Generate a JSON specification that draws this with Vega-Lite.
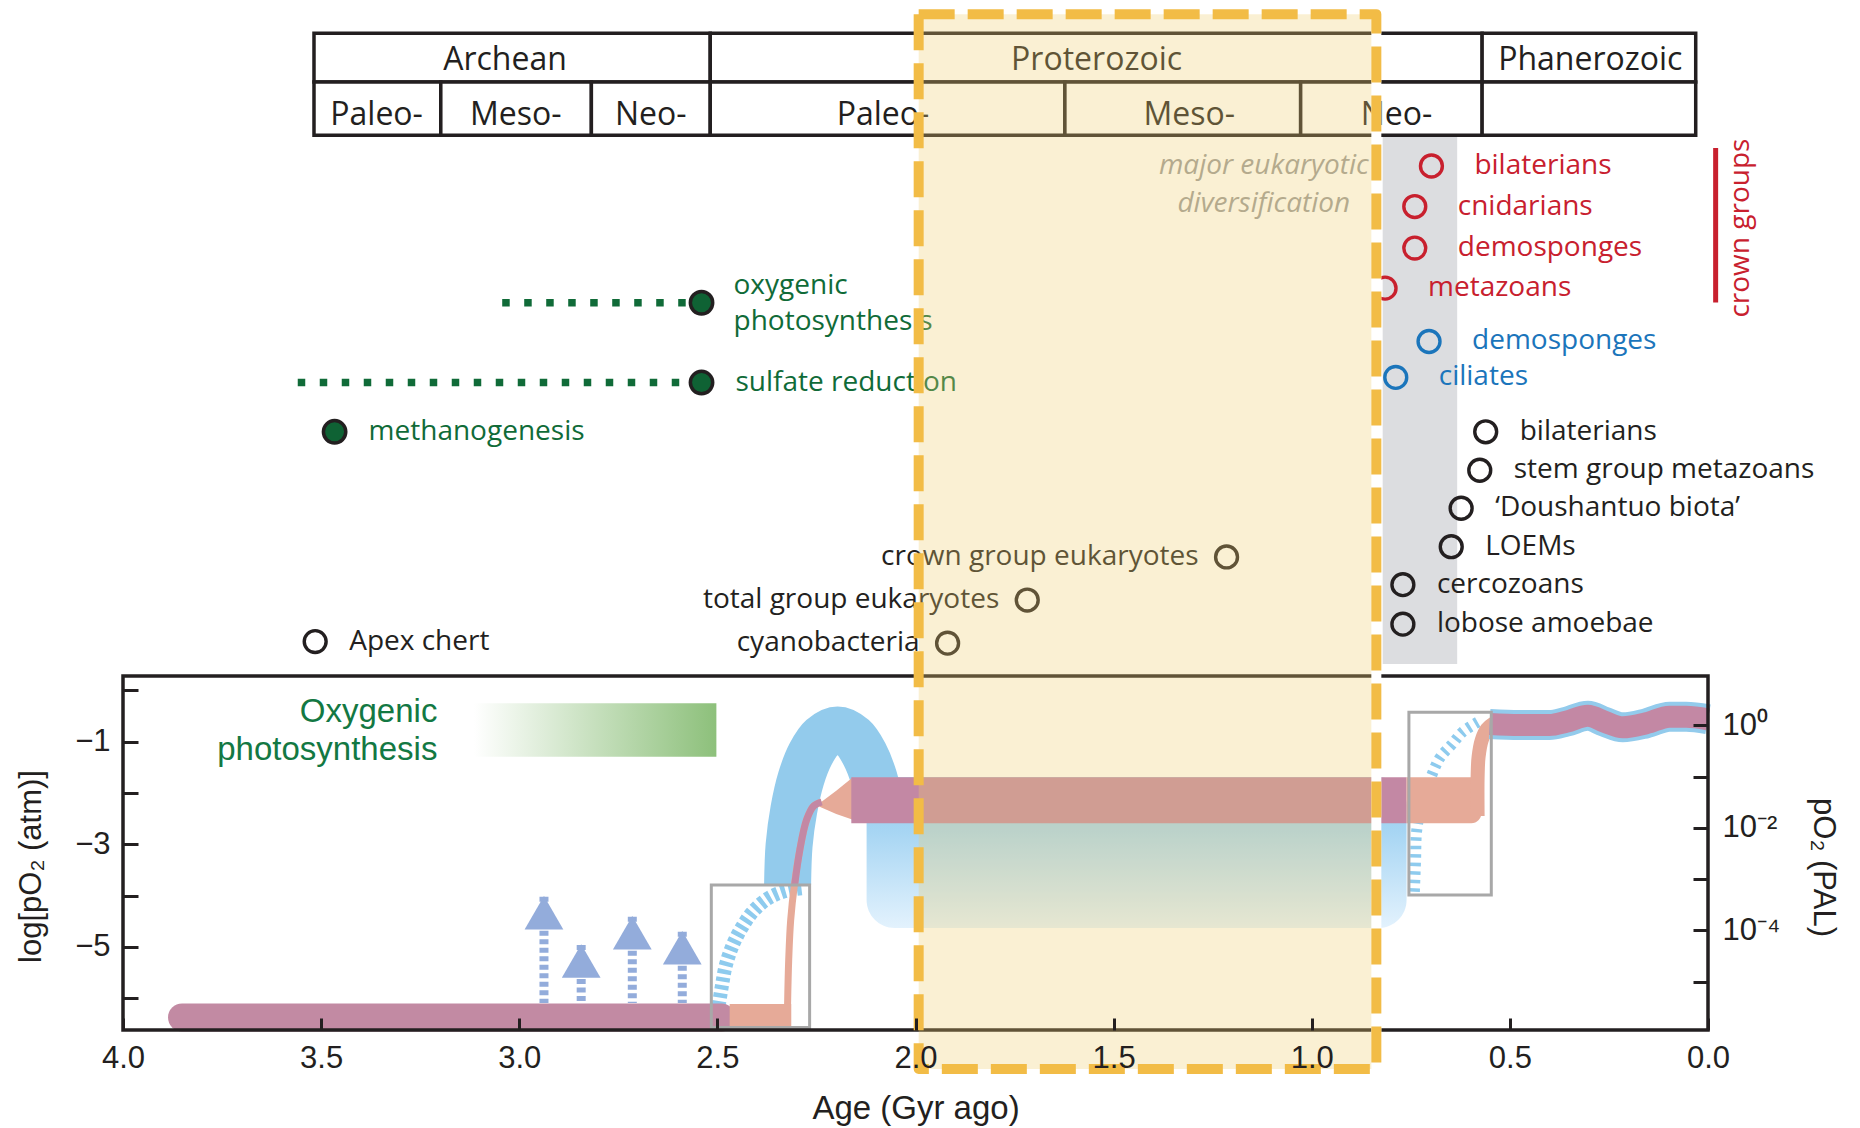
{
  "$schema": "https://vega.github.io/schema/vega-lite/v6.json",
  "width": 1585,
  "height": 1022,
  "autosize": {"type": "none"},
  "padding": {"left": 123, "top": 8, "right": 152, "bottom": 98},
  "background": "white",
  "config": {"view": {"stroke": null}, "font": "Open Sans"},
  "datasets": {
    "cells": [
      {"a": 3.518, "a2": 2.518, "v": 12.807, "v2": 11.86, "am": 3.036, "vb": 12.09, "label": "Archean"},
      {"a": 2.518, "a2": 0.570, "v": 12.807, "v2": 11.86, "am": 1.543, "vb": 12.09, "label": "Proterozoic"},
      {"a": 0.570, "a2": 0.031, "v": 12.807, "v2": 11.86, "am": 0.297, "vb": 12.09, "label": "Phanerozoic"},
      {"a": 3.518, "a2": 3.198, "v": 11.86, "v2": 10.819, "am": 3.360, "vb": 11.02, "label": "Paleo-"},
      {"a": 3.198, "a2": 2.818, "v": 11.86, "v2": 10.819, "am": 3.009, "vb": 11.02, "label": "Meso-"},
      {"a": 2.818, "a2": 2.518, "v": 11.86, "v2": 10.819, "am": 2.668, "vb": 11.02, "label": "Neo-"},
      {"a": 2.518, "a2": 1.623, "v": 11.86, "v2": 10.819, "am": 2.082, "vb": 11.02, "label": "Paleo-"},
      {"a": 1.623, "a2": 1.028, "v": 11.86, "v2": 10.819, "am": 1.309, "vb": 11.02, "label": "Meso-"},
      {"a": 1.028, "a2": 0.570, "v": 11.86, "v2": 10.819, "am": 0.786, "vb": 11.02, "label": "Neo-"},
      {"a": 0.570, "a2": 0.031, "v": 11.86, "v2": 10.819, "am": 0.300, "vb": 11.02, "label": ""}
    ],
    "events": [
      {"label": "bilaterians", "age": 0.698, "v": 10.22, "kind": "crown"},
      {"label": "cnidarians", "age": 0.740, "v": 9.43, "kind": "crown"},
      {"label": "demosponges", "age": 0.740, "v": 8.62, "kind": "crown"},
      {"label": "metazoans", "age": 0.815, "v": 7.84, "kind": "crown"},
      {"label": "demosponges", "age": 0.704, "v": 6.80, "kind": "total"},
      {"label": "ciliates", "age": 0.788, "v": 6.10, "kind": "total"},
      {"label": "bilaterians", "age": 0.561, "v": 5.04, "kind": "stem"},
      {"label": "stem group metazoans", "age": 0.576, "v": 4.29, "kind": "stem"},
      {"label": "‘Doushantuo biota’", "age": 0.623, "v": 3.55, "kind": "stem"},
      {"label": "LOEMs", "age": 0.648, "v": 2.80, "kind": "stem"},
      {"label": "cercozoans", "age": 0.770, "v": 2.06, "kind": "stem"},
      {"label": "lobose amoebae", "age": 0.770, "v": 1.29, "kind": "stem"},
      {"label": "Apex chert", "age": 3.515, "v": 0.95, "kind": "stem"},
      {"label": "crown group eukaryotes", "age": 1.215, "v": 2.60, "kind": "early"},
      {"label": "total group eukaryotes", "age": 1.718, "v": 1.76, "kind": "early"},
      {"label": "cyanobacteria", "age": 1.919, "v": 0.92, "kind": "early"},
      {"label": "oxygenic\nphotosynthesis", "age": 2.540, "v": 7.555, "kind": "metabolism"},
      {"label": "sulfate reduction", "age": 2.540, "v": 6.0, "kind": "metabolism"},
      {"label": "methanogenesis", "age": 3.466, "v": 5.04, "kind": "metabolism"}
    ],
    "arch": [
      {"i": 0, "age": 2.3228, "v": -3.794},
      {"i": 1, "age": 2.319, "v": -3.018},
      {"i": 2, "age": 2.307, "v": -2.327},
      {"i": 3, "age": 2.289, "v": -1.722},
      {"i": 4, "age": 2.265, "v": -1.247},
      {"i": 5, "age": 2.2365, "v": -0.925},
      {"i": 6, "age": 2.1966, "v": -0.773},
      {"i": 7, "age": 2.1567, "v": -0.925},
      {"i": 8, "age": 2.1285, "v": -1.247},
      {"i": 9, "age": 2.1042, "v": -1.722},
      {"i": 10, "age": 2.0858, "v": -2.327},
      {"i": 11, "age": 2.0829, "v": -2.55}
    ],
    "thin": [
      {"i": 0, "age": 2.3228, "v": -6.113},
      {"i": 1, "age": 2.320, "v": -5.256},
      {"i": 2, "age": 2.315, "v": -4.476},
      {"i": 3, "age": 2.305, "v": -3.755},
      {"i": 4, "age": 2.292, "v": -3.112},
      {"i": 5, "age": 2.275, "v": -2.527},
      {"i": 6, "age": 2.257, "v": -2.254},
      {"i": 7, "age": 2.237, "v": -2.176}
    ],
    "thinUpper": [
      {"i": 3, "age": 2.305, "v": -3.794},
      {"i": 4, "age": 2.292, "v": -3.112},
      {"i": 5, "age": 2.275, "v": -2.527},
      {"i": 6, "age": 2.257, "v": -2.254},
      {"i": 7, "age": 2.237, "v": -2.176}
    ],
    "arcLeft": [
      {"i": 0, "age": 2.503, "v": -6.45},
      {"i": 1, "age": 2.489, "v": -5.78},
      {"i": 2, "age": 2.479, "v": -5.37},
      {"i": 3, "age": 2.462, "v": -4.98},
      {"i": 4, "age": 2.439, "v": -4.63},
      {"i": 5, "age": 2.409, "v": -4.30},
      {"i": 6, "age": 2.371, "v": -4.05},
      {"i": 7, "age": 2.328, "v": -3.91},
      {"i": 8, "age": 2.280, "v": -3.85}
    ],
    "arcRight": [
      {"i": 0, "age": 0.741, "v": -3.925},
      {"i": 1, "age": 0.738, "v": -3.307},
      {"i": 2, "age": 0.735, "v": -2.72},
      {"i": 3, "age": 0.720, "v": -2.14},
      {"i": 4, "age": 0.702, "v": -1.75},
      {"i": 5, "age": 0.677, "v": -1.32},
      {"i": 6, "age": 0.647, "v": -1.06},
      {"i": 7, "age": 0.619, "v": -0.81},
      {"i": 8, "age": 0.581, "v": -0.62}
    ],
    "strip": [
      {"i": 0, "age": 0.5814, "v": -2.45},
      {"i": 1, "age": 0.5814, "v": -1.689},
      {"i": 2, "age": 0.579, "v": -1.299},
      {"i": 3, "age": 0.571, "v": -0.968},
      {"i": 4, "age": 0.558, "v": -0.754},
      {"i": 5, "age": 0.541, "v": -0.645}
    ],
    "modern": [
      {"age": 0.551, "v": -0.656},
      {"age": 0.476, "v": -0.676},
      {"age": 0.400, "v": -0.676},
      {"age": 0.358, "v": -0.612},
      {"age": 0.303, "v": -0.495},
      {"age": 0.261, "v": -0.612},
      {"age": 0.215, "v": -0.720},
      {"age": 0.156, "v": -0.642},
      {"age": 0.097, "v": -0.514},
      {"age": 0.055, "v": -0.514},
      {"age": 0.0, "v": -0.565}
    ],
    "arrows": [
      {"age": 2.9376, "tip": -4.022},
      {"age": 2.8437, "tip": -4.963},
      {"age": 2.7147, "tip": -4.412},
      {"age": 2.5886, "tip": -4.704}
    ]
  },
  "layer": [
    {
      "layer": [
        {
          "data": {"values": [{"a": 4, "a2": 0, "v": 0.279, "v2": -6.62}]},
          "mark": {"type": "rect", "filled": false, "color": "#231f20", "strokeWidth": 3.5, "opacity": 0},
          "encoding": {
            "x": {
              "field": "a", "type": "quantitative",
              "scale": {"domain": [0, 4], "reverse": true, "nice": false, "zero": false},
              "axis": {
                "values": [4, 3.5, 3, 2.5, 2, 1.5, 1, 0.5, 0], "format": ".1f",
                "domain": false, "grid": false, "ticks": true, "labels": true, "tickSize": -12, "tickWidth": 3, "tickColor": "#231f20",
                "labelFont": "Liberation Sans", "labelFontSize": 31, "labelColor": "#231f20", "labelPadding": 25,
                "labelFlush": false, "labelOverlap": false, "labelBound": false,
                "title": "Age (Gyr ago)", "titleFont": "Liberation Sans", "titleFontSize": 33, "titleFontWeight": "normal",
                "titleColor": "#231f20", "titleY": 78, "titleBaseline": "middle", "zindex": 1
              }
            },
            "x2": {"field": "a2"},
            "y": {
              "field": "v", "type": "quantitative",
              "scale": {"domain": [-6.62, 13.3], "nice": false, "zero": false},
              "axis": {
                "values": [0, -1, -2, -3, -4, -5, -6],
                "labelExpr": "datum.value % 2 != 0 ? '−' + abs(datum.value) : ''",
                "domain": false, "grid": false, "ticks": true, "labels": true, "tickSize": -15, "tickWidth": 3, "tickColor": "#231f20",
                "labelFont": "Liberation Sans", "labelFontSize": 31, "labelColor": "#231f20", "labelPadding": 28,
                "labelFlush": false, "labelOverlap": false,
                "title": "log[pO₂ (atm)]", "titleFont": "Liberation Sans", "titleFontSize": 31, "titleFontWeight": "normal",
                "titleColor": "#231f20", "titleAngle": 270, "titleX": -92, "titleY": 858, "titleAlign": "center", "titleBaseline": "middle",
                "zindex": 1
              }
            },
            "y2": {"field": "v2"}
          }
        },
        {
          "data": {"values": [{"a": 0.821, "a2": 0.633, "v": 10.819, "v2": 0.513}]},
          "mark": {"type": "rect", "color": "#dcdde0"},
          "encoding": {
            "x": {"field": "a", "type": "quantitative"},
            "x2": {"field": "a2"},
            "y": {"field": "v", "type": "quantitative"},
            "y2": {"field": "v2"}
          }
        },
        {
          "data": {"name": "cells"},
          "mark": {"type": "rect", "fill": "white", "stroke": "#231f20", "strokeWidth": 3.5},
          "encoding": {
            "x": {"field": "a", "type": "quantitative"},
            "x2": {"field": "a2"},
            "y": {"field": "v", "type": "quantitative"},
            "y2": {"field": "v2"}
          }
        },
        {
          "data": {"name": "cells"},
          "mark": {"type": "text", "font": "Open Sans", "fontSize": 32, "color": "#231f20", "align": "center", "baseline": "alphabetic"},
          "encoding": {
            "x": {"field": "am", "type": "quantitative"},
            "y": {"field": "vb", "type": "quantitative"},
            "text": {"field": "label"}
          }
        },
        {
          "data": {"values": [{"a": 3.043, "a2": 2.575, "v": 7.555}, {"a": 3.559, "a2": 2.575, "v": 6.0}]},
          "mark": {"type": "rule", "color": "#106b38", "strokeWidth": 7.5, "strokeDash": [7.5, 14.5]},
          "encoding": {
            "x": {"field": "a", "type": "quantitative"},
            "x2": {"field": "a2"},
            "y": {"field": "v", "type": "quantitative"}
          }
        },
        {
          "data": {"values": [{"a": -0.0193, "v": 10.57, "v2": 7.558}]},
          "mark": {"type": "rule", "color": "#c8202e", "strokeWidth": 5},
          "encoding": {
            "x": {"field": "a", "type": "quantitative"},
            "y": {"field": "v", "type": "quantitative"},
            "y2": {"field": "v2"}
          }
        },
        {
          "data": {"values": [{"a": -0.0823, "v": 9.01, "label": "crown groups"}]},
          "mark": {"type": "text", "font": "Open Sans", "fontSize": 28, "color": "#c8202e", "angle": 270, "align": "center", "baseline": "middle"},
          "encoding": {
            "x": {"field": "a", "type": "quantitative"},
            "y": {"field": "v", "type": "quantitative"},
            "text": {"field": "label"}
          }
        },
        {
          "data": {"name": "events"},
          "transform": [{"filter": "datum.kind == 'crown'"}],
          "mark": {"type": "point", "shape": "circle", "filled": false, "opacity": 1, "size": 480, "strokeWidth": 3.4, "color": "#c8202e"},
          "encoding": {
            "x": {"field": "age", "type": "quantitative"},
            "y": {"field": "v", "type": "quantitative"}
          }
        },
        {
          "data": {"name": "events"},
          "transform": [{"filter": "datum.kind == 'total'"}],
          "mark": {"type": "point", "shape": "circle", "filled": false, "opacity": 1, "size": 480, "strokeWidth": 3.4, "color": "#1b75bb"},
          "encoding": {
            "x": {"field": "age", "type": "quantitative"},
            "y": {"field": "v", "type": "quantitative"}
          }
        },
        {
          "data": {"name": "events"},
          "transform": [{"filter": "datum.kind == 'stem' || datum.kind == 'early'"}],
          "mark": {"type": "point", "shape": "circle", "filled": false, "opacity": 1, "size": 480, "strokeWidth": 3.4, "color": "#231f20"},
          "encoding": {
            "x": {"field": "age", "type": "quantitative"},
            "y": {"field": "v", "type": "quantitative"}
          }
        },
        {
          "data": {"name": "events"},
          "transform": [{"filter": "datum.kind == 'metabolism'"}],
          "mark": {"type": "point", "shape": "circle", "filled": true, "opacity": 1, "size": 500, "fill": "#0f6234", "stroke": "#231f20", "strokeWidth": 3.5},
          "encoding": {
            "x": {"field": "age", "type": "quantitative"},
            "y": {"field": "v", "type": "quantitative"}
          }
        },
        {
          "data": {"name": "events"},
          "transform": [{"filter": "datum.kind == 'crown'"}],
          "mark": {"type": "text", "font": "Open Sans", "fontSize": 28, "color": "#c8202e", "align": "left", "baseline": "middle", "dx": 43},
          "encoding": {
            "x": {"field": "age", "type": "quantitative"},
            "y": {"field": "v", "type": "quantitative"},
            "text": {"field": "label"}
          }
        },
        {
          "data": {"name": "events"},
          "transform": [{"filter": "datum.kind == 'total'"}],
          "mark": {"type": "text", "font": "Open Sans", "fontSize": 28, "color": "#1b75bb", "align": "left", "baseline": "middle", "dx": 43},
          "encoding": {
            "x": {"field": "age", "type": "quantitative"},
            "y": {"field": "v", "type": "quantitative"},
            "text": {"field": "label"}
          }
        },
        {
          "data": {"name": "events"},
          "transform": [{"filter": "datum.kind == 'stem'"}],
          "mark": {"type": "text", "font": "Open Sans", "fontSize": 28, "color": "#231f20", "align": "left", "baseline": "middle", "dx": 34},
          "encoding": {
            "x": {"field": "age", "type": "quantitative"},
            "y": {"field": "v", "type": "quantitative"},
            "text": {"field": "label"}
          }
        },
        {
          "data": {"name": "events"},
          "transform": [{"filter": "datum.kind == 'early'"}],
          "mark": {"type": "text", "font": "Open Sans", "fontSize": 28, "color": "#231f20", "align": "right", "baseline": "middle", "dx": -28},
          "encoding": {
            "x": {"field": "age", "type": "quantitative"},
            "y": {"field": "v", "type": "quantitative"},
            "text": {"field": "label"}
          }
        },
        {
          "data": {"name": "events"},
          "transform": [{"filter": "datum.kind == 'metabolism' && indexof(datum.label, 'photo') < 0"}],
          "mark": {"type": "text", "font": "Open Sans", "fontSize": 28, "color": "#106b38", "align": "left", "baseline": "middle", "dx": 34},
          "encoding": {
            "x": {"field": "age", "type": "quantitative"},
            "y": {"field": "v", "type": "quantitative"},
            "text": {"field": "label"}
          }
        },
        {
          "data": {"name": "events"},
          "transform": [{"filter": "datum.kind == 'metabolism' && indexof(datum.label, 'photo') >= 0"}],
          "mark": {"type": "text", "font": "Open Sans", "fontSize": 28, "color": "#106b38", "align": "left", "baseline": "middle", "dx": 32, "dy": -17, "lineBreak": "\n", "lineHeight": 36},
          "encoding": {
            "x": {"field": "age", "type": "quantitative"},
            "y": {"field": "v", "type": "quantitative"},
            "text": {"field": "label"}
          }
        },
        {
          "data": {"values": [{"a": 1.121, "v": 10.22, "label": "major eukaryotic"}, {"a": 1.121, "v": 9.48, "label": "diversification"}]},
          "mark": {"type": "text", "font": "Open Sans", "fontSize": 28, "fontStyle": "italic", "color": "#9b9b9b", "align": "center", "baseline": "middle"},
          "encoding": {
            "x": {"field": "a", "type": "quantitative"},
            "y": {"field": "v", "type": "quantitative"},
            "text": {"field": "label"}
          }
        },
        {
          "data": {"values": [{"a": 3.114, "a2": 2.5025, "v": -0.253, "v2": -1.294}]},
          "mark": {"type": "rect", "fill": {"gradient": "linear", "x1": 0, "y1": 0, "x2": 1, "y2": 0, "stops": [{"offset": 0, "color": "#ffffff"}, {"offset": 1, "color": "#8dc07b"}]}},
          "encoding": {
            "x": {"field": "a", "type": "quantitative"},
            "x2": {"field": "a2"},
            "y": {"field": "v", "type": "quantitative"},
            "y2": {"field": "v2"}
          }
        },
        {
          "data": {"values": [{"a": 3.2066, "v": -0.611, "label": "Oxygenic\nphotosynthesis"}]},
          "mark": {"type": "text", "font": "Liberation Sans", "fontSize": 33, "color": "#137843", "align": "right", "baseline": "alphabetic", "lineBreak": "\n", "lineHeight": 38},
          "encoding": {
            "x": {"field": "a", "type": "quantitative"},
            "y": {"field": "v", "type": "quantitative"},
            "text": {"field": "label"}
          }
        },
        {
          "data": {"name": "arrows"},
          "mark": {"type": "rule", "color": "#93acdb", "strokeWidth": 9, "strokeDash": [5, 3.5]},
          "encoding": {
            "x": {"field": "age", "type": "quantitative"},
            "y": {"field": "tip", "type": "quantitative"},
            "y2": {"datum": -6.094}
          }
        },
        {
          "data": {"name": "arrows"},
          "mark": {"type": "point", "shape": "triangle-up", "filled": true, "opacity": 1, "size": 1500, "color": "#93acdb", "yOffset": 16},
          "encoding": {
            "x": {"field": "age", "type": "quantitative"},
            "y": {"field": "tip", "type": "quantitative"}
          }
        },
        {
          "data": {"name": "arcLeft"},
          "mark": {"type": "line", "color": "#8ecbee", "strokeWidth": 14, "strokeDash": [4.5, 3.5], "interpolate": "catmull-rom", "strokeCap": "butt"},
          "encoding": {
            "x": {"field": "age", "type": "quantitative"},
            "y": {"field": "v", "type": "quantitative"},
            "order": {"field": "i"}
          }
        },
        {
          "data": {"name": "arcRight"},
          "mark": {"type": "line", "color": "#8ecbee", "strokeWidth": 11, "strokeDash": [3.5, 5], "interpolate": "catmull-rom", "strokeCap": "butt"},
          "encoding": {
            "x": {"field": "age", "type": "quantitative"},
            "y": {"field": "v", "type": "quantitative"},
            "order": {"field": "i"}
          }
        },
        {
          "data": {"values": [{"a": 2.1234, "a2": 0.7607, "v": -1.695, "v2": -4.632}]},
          "mark": {"type": "rect", "cornerRadius": 28, "fill": {"gradient": "linear", "x1": 0, "y1": 0, "x2": 0, "y2": 1, "stops": [{"offset": 0, "color": "#93cbec"}, {"offset": 0.35, "color": "#a6d5f3"}, {"offset": 1, "color": "#e3f2fd"}]}},
          "encoding": {
            "x": {"field": "a", "type": "quantitative"},
            "x2": {"field": "a2"},
            "y": {"field": "v", "type": "quantitative"},
            "y2": {"field": "v2"}
          }
        },
        {
          "data": {"name": "arch"},
          "mark": {"type": "line", "color": "#93cbec", "strokeWidth": 47, "interpolate": "catmull-rom", "strokeCap": "butt"},
          "encoding": {
            "x": {"field": "age", "type": "quantitative"},
            "y": {"field": "v", "type": "quantitative"},
            "order": {"field": "i"}
          }
        },
        {
          "data": {"values": [{"a": 3.851, "a2": 2.49, "v": -6.376}]},
          "mark": {"type": "rule", "color": "#c28aa3", "strokeWidth": 28, "strokeCap": "round"},
          "encoding": {
            "x": {"field": "a", "type": "quantitative"},
            "x2": {"field": "a2"},
            "y": {"field": "v", "type": "quantitative"}
          }
        },
        {
          "data": {"name": "thin"},
          "mark": {"type": "line", "color": "#e6aa98", "strokeWidth": 7, "interpolate": "catmull-rom", "strokeCap": "butt"},
          "encoding": {
            "x": {"field": "age", "type": "quantitative"},
            "y": {"field": "v", "type": "quantitative"},
            "order": {"field": "i"}
          }
        },
        {
          "data": {"values": [{"a": 2.469, "a2": 2.3135, "v": -6.113, "v2": -6.556}]},
          "mark": {"type": "rect", "color": "#e6aa98"},
          "encoding": {
            "x": {"field": "a", "type": "quantitative"},
            "x2": {"field": "a2"},
            "y": {"field": "v", "type": "quantitative"},
            "y2": {"field": "v2"}
          }
        },
        {
          "data": {"values": [{"age": 2.242, "v": -2.20, "v2": -2.27}, {"age": 2.20, "v": -1.955, "v2": -2.412}, {"age": 2.158, "v": -1.695, "v2": -2.52}]},
          "mark": {"type": "area", "color": "#e6aa98", "opacity": 1},
          "encoding": {
            "x": {"field": "age", "type": "quantitative"},
            "y": {"field": "v", "type": "quantitative"},
            "y2": {"field": "v2"}
          }
        },
        {
          "data": {"values": [{"a": 2.162, "a2": 0.7607, "v": -1.695, "v2": -2.592}]},
          "mark": {"type": "rect", "color": "#c388a4"},
          "encoding": {
            "x": {"field": "a", "type": "quantitative"},
            "x2": {"field": "a2"},
            "y": {"field": "v", "type": "quantitative"},
            "y2": {"field": "v2"}
          }
        },
        {
          "data": {"values": [{"a": 0.7607, "a2": 0.572, "v": -1.695, "v2": -2.592}]},
          "mark": {"type": "rect", "color": "#e6aa98", "cornerRadiusBottomRight": 10},
          "encoding": {
            "x": {"field": "a", "type": "quantitative"},
            "x2": {"field": "a2"},
            "y": {"field": "v", "type": "quantitative"},
            "y2": {"field": "v2"}
          }
        },
        {
          "data": {"name": "thinUpper"},
          "mark": {"type": "line", "color": "#c388a4", "strokeWidth": 7, "interpolate": "catmull-rom", "strokeCap": "butt"},
          "encoding": {
            "x": {"field": "age", "type": "quantitative"},
            "y": {"field": "v", "type": "quantitative"},
            "order": {"field": "i"}
          }
        },
        {
          "data": {"name": "strip"},
          "mark": {"type": "line", "color": "#e6aa98", "strokeWidth": 14, "interpolate": "catmull-rom", "strokeCap": "butt"},
          "encoding": {
            "x": {"field": "age", "type": "quantitative"},
            "y": {"field": "v", "type": "quantitative"},
            "order": {"field": "i"}
          }
        },
        {
          "data": {"name": "modern"},
          "mark": {"type": "line", "color": "#93cbec", "strokeWidth": 30, "interpolate": "monotone", "strokeCap": "butt"},
          "encoding": {
            "x": {"field": "age", "type": "quantitative"},
            "y": {"field": "v", "type": "quantitative"}
          }
        },
        {
          "data": {"name": "modern"},
          "mark": {"type": "line", "color": "#c388a4", "strokeWidth": 22, "interpolate": "monotone", "strokeCap": "butt"},
          "encoding": {
            "x": {"field": "age", "type": "quantitative"},
            "y": {"field": "v", "type": "quantitative"}
          }
        },
        {
          "data": {"values": [{"a": 2.5153, "a2": 2.2672, "v": -3.794, "v2": -6.571}, {"a": 0.7548, "a2": 0.5469, "v": -0.428, "v2": -3.989}]},
          "mark": {"type": "rect", "filled": false, "color": "#a8a8a8", "strokeWidth": 3},
          "encoding": {
            "x": {"field": "a", "type": "quantitative"},
            "x2": {"field": "a2"},
            "y": {"field": "v", "type": "quantitative"},
            "y2": {"field": "v2"}
          }
        },
        {
          "data": {"values": [{"a": 4, "a2": 0, "v": 0.279, "v2": -6.62}]},
          "mark": {"type": "rect", "filled": false, "color": "#231f20", "strokeWidth": 3.5},
          "encoding": {
            "x": {"field": "a", "type": "quantitative"},
            "x2": {"field": "a2"},
            "y": {"field": "v", "type": "quantitative"},
            "y2": {"field": "v2"}
          }
        },
        {
          "data": {"values": [{"a": 1.992, "a2": 0.837, "v": 13.18, "v2": -7.38}]},
          "mark": {"type": "rect", "color": "#f0cd6e", "opacity": 0.3},
          "encoding": {
            "x": {"field": "a", "type": "quantitative"},
            "x2": {"field": "a2"},
            "y": {"field": "v", "type": "quantitative"},
            "y2": {"field": "v2"}
          }
        },
        {
          "data": {"values": [{"a": 0.837, "v": 13.18, "v2": -7.38}]},
          "mark": {"type": "rule", "color": "white", "strokeWidth": 10},
          "encoding": {
            "x": {"field": "a", "type": "quantitative"},
            "y": {"field": "v", "type": "quantitative"},
            "y2": {"field": "v2"}
          }
        },
        {
          "data": {"values": [{"a": 1.992, "a2": 0.837, "v": 13.18, "v2": -7.38}]},
          "mark": {"type": "rect", "filled": false, "color": "#f2bc46", "strokeWidth": 10, "strokeDash": [36, 13], "strokeJoin": "round"},
          "encoding": {
            "x": {"field": "a", "type": "quantitative"},
            "x2": {"field": "a2"},
            "y": {"field": "v", "type": "quantitative"},
            "y2": {"field": "v2"}
          }
        }
      ]
    },
    {
      "data": {"values": [{"v": -0.68}]},
      "mark": {"type": "point", "opacity": 0},
      "encoding": {
        "y": {
          "field": "v", "type": "quantitative",
          "scale": {"domain": [-6.62, 13.3], "nice": false, "zero": false},
          "axis": {
            "orient": "right",
            "values": [-0.68, -1.68, -2.68, -3.68, -4.68, -5.68],
            "labelExpr": "abs(datum.value + 0.68) < 0.01 ? '10⁰' : abs(datum.value + 2.68) < 0.01 ? '10⁻²' : abs(datum.value + 4.68) < 0.01 ? '10⁻⁴' : ''",
            "domain": false, "grid": false, "tickSize": -15, "tickWidth": 3, "tickColor": "#231f20",
            "labelFont": "Liberation Sans", "labelFontSize": 31, "labelColor": "#231f20", "labelPadding": 29,
            "labelFlush": false, "labelOverlap": false,
            "title": "pO₂ (PAL)", "titleFont": "Liberation Sans", "titleFontSize": 31, "titleFontWeight": "normal",
            "titleColor": "#231f20", "titleAngle": 90, "titleX": 114, "titleY": 859, "titleAlign": "center", "titleBaseline": "middle",
            "zindex": 1
          }
        }
      }
    }
  ],
  "resolve": {"scale": {"y": "independent"}, "axis": {"y": "independent"}}
}
